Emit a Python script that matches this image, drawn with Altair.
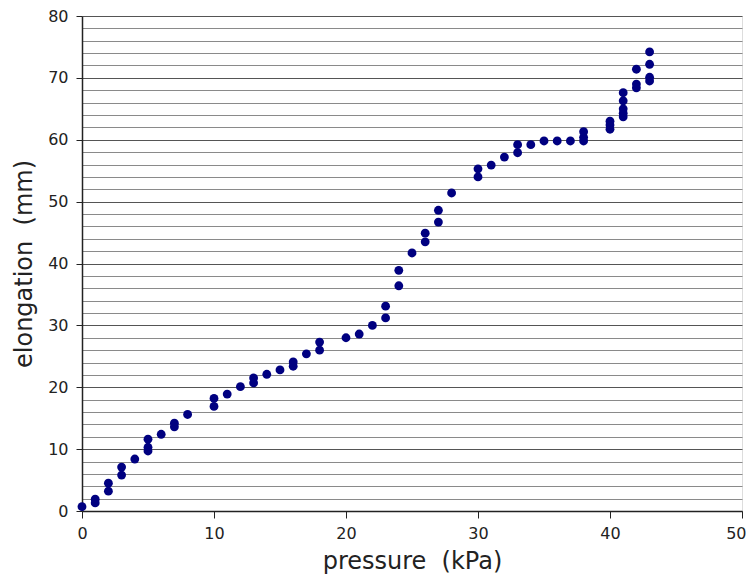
import altair as alt
import pandas as pd

pressure = [0, 1, 1, 2, 2, 3, 3, 4, 5, 5, 5, 6, 7, 7, 8, 10, 10, 11, 12, 13, 13,
            14, 15, 16, 16, 17, 18, 18, 20, 21, 22, 23, 23, 24, 24, 25, 26, 26,
            27, 27, 28, 30, 30, 31, 32, 33, 33, 34, 35, 36, 37, 38, 38, 38,
            40, 40, 40, 41, 41, 41, 41, 41, 42, 42, 42, 43, 43, 43, 43]
elongation = [0.7, 1.9, 1.3, 4.5, 3.2, 7.1, 5.8, 8.4, 11.6, 10.3, 9.7, 12.4, 14.2, 13.6,
              15.6, 18.2, 16.9, 18.9, 20.1, 21.5, 20.7, 22.1, 22.8, 24.1, 23.4, 25.4,
              27.3, 26.0, 28.0, 28.6, 30.0, 33.1, 31.2, 38.9, 36.4, 41.7, 44.9, 43.5,
              48.6, 46.7, 51.4, 55.3, 54.0, 55.9, 57.2, 59.2, 57.9, 59.2, 59.8, 59.8,
              59.8, 61.3, 60.4, 59.8, 63.0, 62.4, 61.7, 67.6, 66.3, 65.0, 64.3, 63.7,
              71.4, 69.0, 68.4, 74.2, 72.2, 70.1, 69.5]
x_ticks = [0, 10, 20, 30, 40, 50]
y_grid = list(range(0, 81, 2))

df = pd.DataFrame({"pressure": pressure, "elongation": elongation})

FONT = "DejaVu Sans"

chart = alt.Chart(df).mark_circle(size=78, color="#000080", opacity=1).encode(
    x=alt.X("pressure:Q",
            scale=alt.Scale(domain=[0, 50], nice=False, zero=False),
            axis=alt.Axis(values=x_ticks, title="pressure \u00a0(kPa)", grid=False,
                          domainColor="#222222", domainWidth=1.5,
                          tickColor="#222222", tickSize=7, tickWidth=1,
                          labelFont=FONT, labelFontSize=16, labelColor="#222222",
                          labelPadding=7, labelFlush=False,
                          labelAlign={"condition": {"test": "datum.value === 50", "value": "right"},
                                      "value": "center"},
                          labelOffset={"condition": {"test": "datum.value === 50", "value": 4},
                                       "value": 0},
                          titleFont=FONT, titleFontSize=24, titleFontWeight="normal",
                          titleColor="#222222", titlePadding=8)),
    y=alt.Y("elongation:Q",
            scale=alt.Scale(domain=[0, 80], nice=False, zero=False),
            axis=alt.Axis(values=y_grid, title="elongation \u00a0(mm)", grid=True,
                          gridColor={"condition": {"test": "datum.value % 10 === 0", "value": "#555555"},
                                     "value": "#8a8a8a"},
                          gridWidth=1.2,
                          domainColor="#222222", domainWidth=1.5,
                          tickColor="#222222", tickSize=6, tickWidth=1,
                          tickOpacity={"condition": {"test": "datum.value % 10 === 0", "value": 1},
                                       "value": 0},
                          labelExpr="datum.value % 10 === 0 ? datum.label : ''",
                          labelFont=FONT, labelFontSize=16, labelColor="#222222",
                          labelPadding=8, labelFlush=False,
                          titleFont=FONT, titleFontSize=24, titleFontWeight="normal",
                          titleColor="#222222", titlePadding=11)),
).properties(
    width=660, height=495,
    autosize="none",
    padding={"left": 74, "top": 8, "right": 4, "bottom": 63},
).configure_view(
    fill="#d3d3d3", stroke="#8a8a8a", strokeWidth=1.5
).configure(background="white")

chart.save("out.html", embed_options={"renderer": "svg", "actions": False})
